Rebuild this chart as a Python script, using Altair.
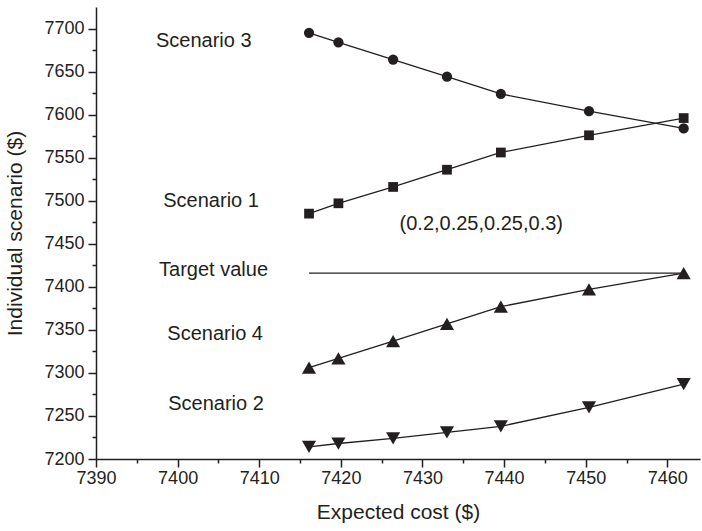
import altair as alt
import pandas as pd

# Expected cost (x) shared by all scenarios
x_cost = [7416.1, 7419.7, 7426.4, 7433.0, 7439.6, 7450.4, 7462.0]
scenario_3 = [7695, 7684, 7664, 7644, 7624, 7604, 7584]
scenario_1 = [7485, 7497, 7516, 7536, 7556, 7576, 7596]
scenario_4 = [7306, 7317, 7337, 7357, 7377, 7397, 7416]
scenario_2 = [7214, 7218, 7224, 7231, 7238, 7260, 7287]
target_value = 7416

series_names = ["Scenario 3", "Scenario 1", "Scenario 4", "Scenario 2"]
series_vals = [scenario_3, scenario_1, scenario_4, scenario_2]

x_ticks = [7390, 7400, 7410, 7420, 7430, 7440, 7450, 7460]
x_minor = [7395, 7405, 7415, 7425, 7435, 7445, 7455]
y_ticks = [7200, 7250, 7300, 7350, 7400, 7450, 7500, 7550, 7600, 7650, 7700]
y_minor = [7225, 7275, 7325, 7375, 7425, 7475, 7525, 7575, 7625, 7675]

labels = ["Scenario 3", "Scenario 1", "(0.2,0.25,0.25,0.3)", "Target value", "Scenario 4", "Scenario 2"]
label_x = [7403.2, 7404.1, 7437.2, 7404.4, 7404.6, 7404.7]
label_y = [7685, 7500, 7473, 7419, 7345, 7264]

rows = []
for name, vals in zip(series_names, series_vals):
    for xv, yv in zip(x_cost, vals):
        rows.append({"series": name, "cost": xv, "value": yv})
df = pd.DataFrame(rows)
target_df = pd.DataFrame({"x1": [x_cost[0]], "x2": [x_cost[-1]], "y": [target_value]})
text_df = pd.DataFrame({"label": labels, "x": label_x, "y": label_y})

INK = "#231f20"
FONT = "Liberation Sans"

marker_style = {
    "Scenario 3": ("circle", 105),
    "Scenario 1": ("square", 95),
    "Scenario 4": ("triangle-up", 200),
    "Scenario 2": ("triangle-down", 200),
}

xs = alt.Scale(domain=[7390, 7464], nice=False, zero=False)
ys = alt.Scale(domain=[7200, 7725], nice=False, zero=False)

main_x_axis = alt.Axis(values=x_ticks, title="Expected cost ($)", orient="bottom", format="d",
                       tickSize=8, labelPadding=2, titlePadding=14, labelFlush=False, labelOverlap=False)
main_y_axis = alt.Axis(values=y_ticks, title="Individual scenario ($)", orient="left", format="d",
                       tickSize=8, labelPadding=4, titlePadding=18, labelFlush=False, labelOverlap=False)

lines = alt.Chart(df).mark_line(color=INK, strokeWidth=1.3).encode(
    x=alt.X("cost:Q", scale=xs, axis=main_x_axis),
    y=alt.Y("value:Q", scale=ys, axis=main_y_axis),
    detail="series:N",
)

point_layers = []
for name in series_names:
    shp, sz = marker_style[name]
    point_layers.append(
        alt.Chart(df).transform_filter(alt.datum.series == name)
        .mark_point(filled=True, opacity=1, color=INK, shape=shp, size=sz, strokeWidth=0)
        .encode(
            x=alt.X("cost:Q", scale=xs, axis=None),
            y=alt.Y("value:Q", scale=ys, axis=None),
        )
    )

rule = alt.Chart(target_df).mark_rule(color=INK, strokeWidth=1.3).encode(
    x=alt.X("x1:Q", scale=xs, axis=None),
    x2="x2:Q",
    y=alt.Y("y:Q", scale=ys, axis=None),
)

texts = alt.Chart(text_df).mark_text(font=FONT, fontSize=20, color=INK, align="center", baseline="middle").encode(
    x=alt.X("x:Q", scale=xs, axis=None),
    y=alt.Y("y:Q", scale=ys, axis=None),
    text="label:N",
)

minor = alt.Chart(df).mark_point(opacity=0).encode(
    x=alt.X("cost:Q", scale=xs, axis=alt.Axis(values=x_minor, orient="bottom", labels=False, title=None,
                                               domain=False, tickSize=4)),
    y=alt.Y("value:Q", scale=ys, axis=alt.Axis(values=y_minor, orient="left", labels=False, title=None,
                                                domain=False, tickSize=4)),
)

chart = alt.layer(lines, rule, *point_layers, texts, minor).resolve_axis(x="independent", y="independent").properties(
    width=604, height=452,
    padding={"left": 96, "top": 7, "right": 2, "bottom": 72},
    autosize=alt.AutoSizeParams(type="none"),
).configure_view(stroke=None).configure_axis(
    grid=False,
    domainColor=INK, domainWidth=1.5,
    tickColor=INK, tickWidth=1.5,
    labelColor=INK, labelFont=FONT, labelFontSize=18,
    titleColor=INK, titleFont=FONT, titleFontSize=21, titleFontWeight="normal",
)

chart.save("out.html", embed_options={"renderer": "svg", "actions": False})
